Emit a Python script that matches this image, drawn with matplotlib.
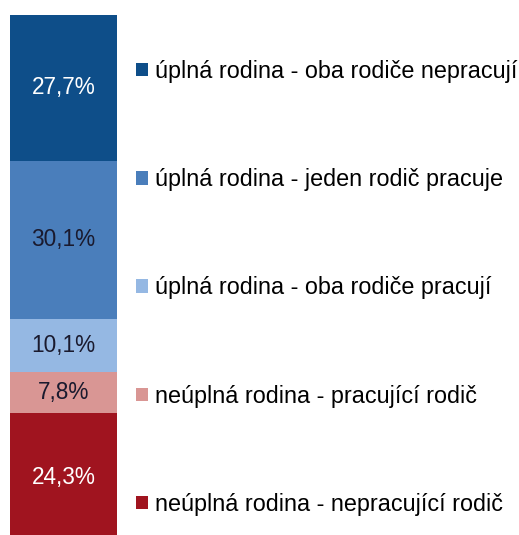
import matplotlib
matplotlib.use("Agg")
import matplotlib.pyplot as plt
from matplotlib.patches import Patch

# data, bottom of the bar first
categories = [
    "neúplná rodina - nepracující rodič",
    "neúplná rodina - pracující rodič",
    "úplná rodina - oba rodiče pracují",
    "úplná rodina - jeden rodič pracuje",
    "úplná rodina - oba rodiče nepracují",
]
shares = [24.3, 7.8, 10.1, 30.1, 27.7]
value_labels = ["24,3%", "7,8%", "10,1%", "30,1%", "27,7%"]

colors = ["#A0141F", "#D99694", "#95B8E3", "#4A7EBB", "#0E4E89"]
text_colors = ["white", "#1a1a2e", "#1a1a2e", "#1a1a2e", "white"]

plt.rcParams["font.family"] = ["Liberation Sans", "DejaVu Sans"]

W, H = 519, 535
fig = plt.figure(figsize=(W / 100, H / 100), dpi=100)
# bar runs a bit past the bottom edge of the picture
top_px, bot_px = 15, 541
ax = fig.add_axes([10 / W, (H - bot_px) / H, 107 / W, (bot_px - top_px) / H])

bottom = 0
for val, lab, col, tc in zip(shares, value_labels, colors, text_colors):
    ax.bar(0, val, bottom=bottom, width=1.0, color=col, edgecolor="none")
    ax.text(0, bottom + val / 2, lab, ha="center", va="center",
            color=tc, fontsize=16.3)
    bottom += val

ax.set_xlim(-0.5, 0.5)
ax.set_ylim(0, bottom)
ax.axis("off")

handles = [Patch(facecolor=c, edgecolor="none") for c in colors]
fig.legend(handles[::-1], categories[::-1], loc="upper left",
           bbox_to_anchor=(136 / W, 1 - 60 / H), frameon=False,
           fontsize=16.8, labelspacing=3.65, handlelength=0.5,
           handleheight=0.5, handletextpad=0.3, borderpad=0,
           borderaxespad=0)

fig.savefig("out.png", dpi=100)
